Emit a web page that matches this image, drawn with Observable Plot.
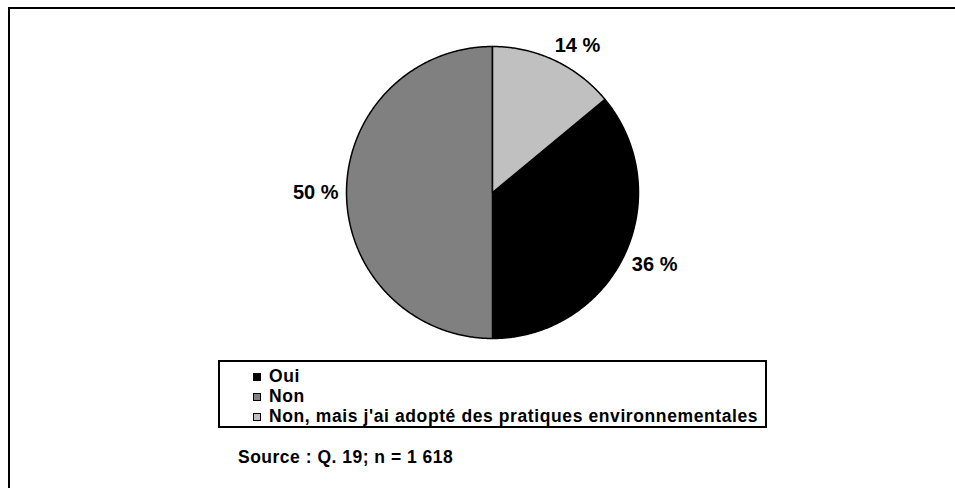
<!DOCTYPE html>
<html>
<head>
<meta charset="utf-8">
<script src="https://cdn.jsdelivr.net/npm/d3@7"></script>
<script src="https://cdn.jsdelivr.net/npm/@observablehq/plot@0.6"></script>
<style>
  html, body { margin: 0; padding: 0; background: #fff; }
  #wrap { position: relative; width: 955px; height: 488px; overflow: hidden; font-family: "Liberation Sans", Arial, sans-serif; font-weight: bold; color: #000; }
  #frame { position: absolute; left: 8px; top: 7px; right: -10px; bottom: -10px; border-left: 2px solid #000; border-top: 2px solid #000; }
  #chart { position: absolute; left: 0; top: 0; }
  #legend { position: absolute; left: 218px; top: 360px; width: 545px; height: 64px; border: 2px solid #000; box-sizing: content-box; padding: 0; }
  .row { position: absolute; left: 33px; height: 20px; line-height: 20px; font-size: 17.5px; letter-spacing: 0.6px; white-space: nowrap; }
  .sw { display: inline-block; width: 6px; height: 6px; border: 1px solid #000; margin-right: 8px; vertical-align: 1px; }
  #source { position: absolute; left: 238px; top: 447px; font-size: 17.5px; letter-spacing: 0.5px; white-space: nowrap; }
</style>
</head>
<body>
<div id="wrap">
  <div id="frame"></div>
  <div id="chart"></div>
  <div id="legend"></div>
  <div id="source"></div>
</div>
<script>
// Data
const categories = ["Oui", "Non", "Non, mais j'ai adopté des pratiques environnementales"];
const values = [36, 50, 14];
const labels = ["36 %", "50 %", "14 %"];
const colors = ["#000000", "#808080", "#C0C0C0"];
const sourceText = "Source : Q. 19; n = 1 618";

// Layout constants
const W = 955, H = 350;
const cx = 492, cy = 192, R = 146, gap = 8;
const firstSliceDeg = 50.4;
const labelFont = "bold 20px 'Liberation Sans', Arial, sans-serif";

const start = firstSliceDeg * Math.PI / 180;
const arcs = d3.pie().sort(null).value(d => d.value).startAngle(start).endAngle(start + 2 * Math.PI)(
  categories.map((c, i) => ({category: c, value: values[i], label: labels[i]}))
);

// polygon points for each slice (center -> arc -> center)
const pts = [];
for (const a of arcs) {
  const n = Math.max(2, Math.ceil((a.endAngle - a.startAngle) / (Math.PI / 360)));
  pts.push({category: a.data.category, x: cx, y: cy});
  for (let k = 0; k <= n; k++) {
    const t = a.startAngle + (a.endAngle - a.startAngle) * k / n;
    pts.push({category: a.data.category, x: cx + R * Math.sin(t), y: cy - R * Math.cos(t)});
  }
  pts.push({category: a.data.category, x: cx, y: cy});
}

// outside labels: box placed just outside the rim, on the slice's mid angle
const ctx = document.createElement("canvas").getContext("2d");
ctx.font = labelFont;
const clamp = v => Math.max(-1, Math.min(1, v));
const lab = arcs.map(a => {
  const m = (a.startAngle + a.endAngle) / 2;
  const s = Math.sin(m), c = Math.cos(m);
  const w = ctx.measureText(a.data.label).width, h = 15;
  const px = cx + (R + gap) * s, py = cy - (R + gap) * c;
  return {label: a.data.label, x: px + clamp(2 * s) * w / 2, y: py - clamp(2 * c) * h / 2};
});

const chart = Plot.plot({
  width: W,
  height: H,
  margin: 0,
  x: {domain: [0, W], axis: null},
  y: {domain: [H, 0], axis: null},
  color: {domain: categories, range: colors},
  style: {background: "transparent", overflow: "visible"},
  marks: [
    Plot.line(pts, {x: "x", y: "y", z: "category", fill: "category", stroke: "#000", strokeWidth: 1.5, strokeLinejoin: "round"}),
    Plot.text(lab, {x: "x", y: "y", text: "label", fontSize: 20, fontWeight: "bold", fill: "#000", fontFamily: "Liberation Sans, Arial, sans-serif"})
  ]
});
document.getElementById("chart").appendChild(chart);

// Legend
const legend = document.getElementById("legend");
categories.forEach((c, i) => {
  const row = document.createElement("div");
  row.className = "row";
  row.style.top = (4 + i * 20) + "px";
  const sw = document.createElement("span");
  sw.className = "sw";
  sw.style.background = colors[i];
  row.appendChild(sw);
  row.appendChild(document.createTextNode(c));
  legend.appendChild(row);
});
document.getElementById("source").textContent = sourceText;
</script>
</body>
</html>
